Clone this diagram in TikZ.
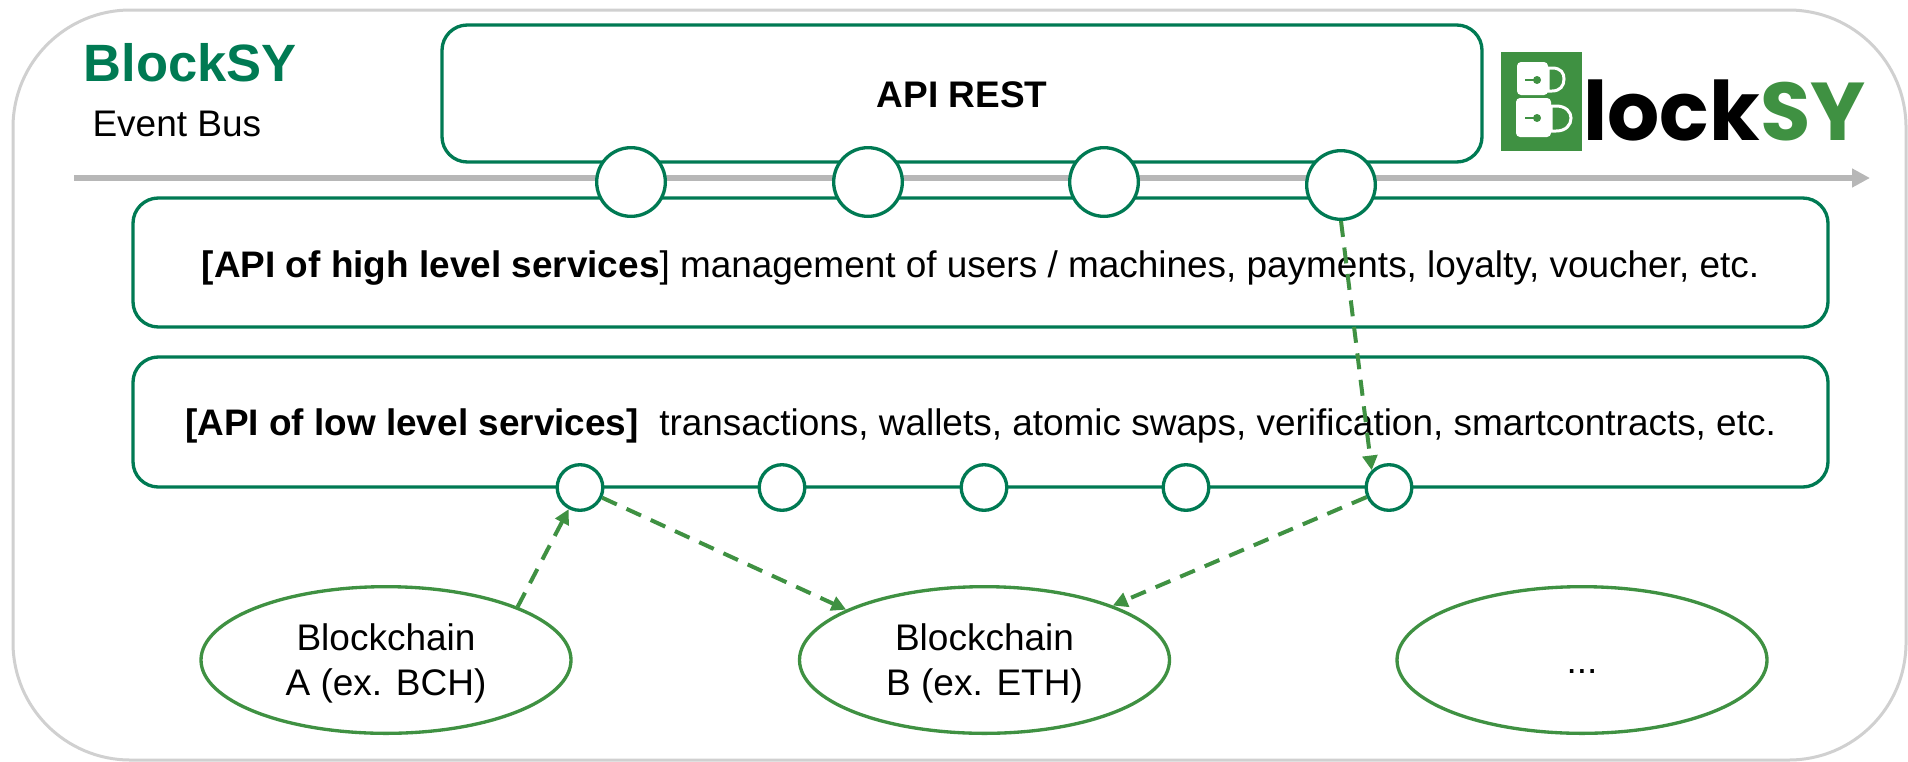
\documentclass[tikz,border=0pt]{standalone}
\usepackage{fontspec}
\setmainfont{Liberation Sans}
\newfontfamily\logofont{Poppins}
\usetikzlibrary{arrows.meta,shapes.geometric}
\definecolor{busgreen}{HTML}{007A53}
\definecolor{logogreen}{HTML}{3F9142}
\tikzset{
  every picture/.style={line width=0.75pt},
  busbox/.style={draw=busgreen,line width=2.5pt,rounded corners=19pt,fill=white,font=\fontsize{27.7}{34}\selectfont},
  bigport/.style={draw=busgreen,line width=2.5pt,circle,fill=white,minimum size=51.5pt,inner sep=0pt},
  smallport/.style={draw=busgreen,line width=2.5pt,circle,fill=white,minimum size=34.2pt,inner sep=0pt},
  chain/.style={draw=logogreen,line width=2.5pt,ellipse,fill=white,minimum width=277.5pt,minimum height=110pt,inner sep=0pt},
  chaintext/.style={align=center,font=\fontsize{27.75}{34}\selectfont},
  callline/.style={draw=logogreen,line width=3pt,dash pattern=on 12pt off 8pt,-{Triangle[length=11pt,width=11pt]}},
}
\begin{document}
\begin{tikzpicture}[x=0.75pt,y=0.75pt,yscale=-1,xscale=1]
\useasboundingbox (0,0) rectangle (1908,761);

%Shape: Outer frame
\draw [draw={rgb, 255:red, 208; green, 208; blue, 208 },line width=2.25pt,rounded corners=88pt] (13,10) rectangle (1906,760);

%Titles
\node (title) [anchor=west,inner sep=0pt,text=busgreen,font=\fontsize{39.4}{45}\selectfont\bfseries] at (83,63) {BlockSY};
\node (subtitle) [anchor=west,inner sep=0pt,font=\fontsize{27.75}{30}\selectfont] at (92,124) {Event Bus};

%Bus arrow
\coordinate (busstart) at (74,178);
\coordinate (busend) at (1870,178);
\draw [draw={rgb, 255:red, 183; green, 183; blue, 183 },line width=4.5pt,-{Triangle[length=13.5pt,width=13.5pt]}] (busstart) -- (busend);

%Service boxes
\node (rest) [busbox,minimum width=780pt,minimum height=102.75pt,text height=21pt,font=\fontsize{27.75}{34}\selectfont\bfseries] at (962,93.5) {API REST};
\node (high) [busbox,minimum width=1271.25pt,minimum height=96.75pt,text height=25pt,text depth=2pt] at (980.5,262.5) {{\bfseries [API of high level services}] management of users / machines, payments, loyalty, voucher, etc.};
\node (low) [busbox,minimum width=1271.25pt,minimum height=97.5pt,text height=25pt,text depth=5pt] at (980.5,422) {{\bfseries [API of low level services]}\ \ transactions, wallets, atomic swaps, verification, smartcontracts, etc.};

%Ports
\node (topa) [bigport] at (631,182) {};
\node (topb) [bigport] at (868,182) {};
\node (topc) [bigport] at (1104,182) {};
\node (topd) [bigport] at (1341,185) {};
\foreach \name/\px in {lowa/580,lowb/782,lowc/984,lowd/1186,lowe/1389}
  \node (\name) [smallport] at (\px,487.5) {};

%Blockchains
\node (chaina) [chain,label={[chaintext,yshift=-2.7pt]center:Blockchain\\A (ex. BCH)}] at (386,660) {};
\node (chainb) [chain,label={[chaintext,yshift=-2.7pt]center:Blockchain\\B (ex. ETH)}] at (984.5,660) {};
\node (chainc) [chain,label={[chaintext,yshift=-9pt]center:...}] at (1582,660) {};

%Calls
\draw [callline] (chaina.22) -- (lowa);
\draw [callline] (lowa) -- (chainb.160);
\draw [callline] (lowe) -- (chainb.23);
\draw [callline] (topd.south) -- (lowe.135);

%Logo
\node (logomark) [fill=logogreen,minimum width=60.75pt,minimum height=74.25pt,inner sep=0pt] at (1541.5,101.5) {};
\draw [draw=white,line width=2.25pt,fill=logogreen] (1548,68) -- (1552,68) .. controls (1561,68) and (1564,73) .. (1564,79) .. controls (1564,86) and (1560,91) .. (1552,91) -- (1548,91) -- cycle;
\draw [draw=white,line width=2.25pt,fill=logogreen] (1551,106) -- (1556,106) .. controls (1566,106) and (1571,112) .. (1571,118) .. controls (1571,125) and (1566,131) .. (1556,131) -- (1551,131) -- cycle;
\fill [white,rounded corners=3pt] (1517,62) rectangle (1548,95);
\fill [white,rounded corners=3pt] (1516,98) rectangle (1551,137);
\draw [draw=logogreen,line width=2pt] (1525,80) -- (1537,80);
\fill [logogreen] (1537,80) circle [radius=4];
\draw [draw=logogreen,line width=2pt] (1525,118) -- (1537,118);
\fill [logogreen] (1537,118) circle [radius=4];
\node (logotext) [anchor=base west,inner sep=0pt,font=\logofont\fontsize{61.5}{70}\selectfont\bfseries] at (1583,140) {lock\textcolor{logogreen}{SY}};
\end{tikzpicture}
\end{document}
